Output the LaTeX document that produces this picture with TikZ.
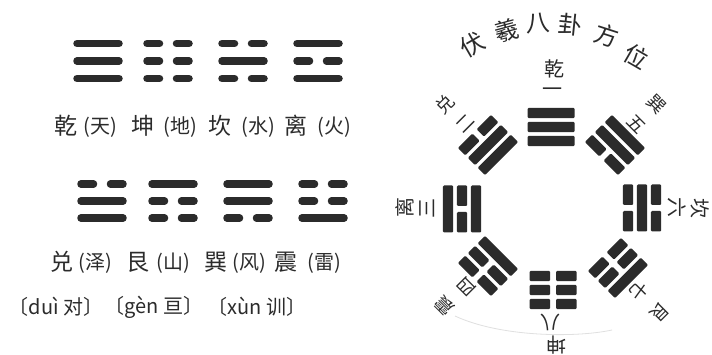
\documentclass[tikz,border=0pt]{standalone}
\usepackage{fontspec}
\setmainfont{Liberation Serif}
\newfontfamily\cjk{Noto Sans CJK SC}
\definecolor{ink}{HTML}{2B2B2B}
\newcommand{\octgua}[4]{%
 \begin{scope}[shift={(#1,#2)}, rotate=#3]
  \foreach \v [count=\i] in {#4} {
    \pgfmathsetmacro{\yy}{(\i-2)*14}
    \ifnum\v=1
      \fill[bar] (-23.5,\yy-5.2) rectangle (23.5,\yy+5.2);
    \else
      \fill[bar] (-23.5,\yy-5.2) rectangle (-3,\yy+5.2);
      \fill[bar] (3,\yy-5.2) rectangle (23.5,\yy+5.2);
    \fi
  }
 \end{scope}}
\newcommand{\rowgua}[4]{%
  \foreach \v [count=\i] in {#4} {
    \pgfmathsetmacro{\yy}{#2+(\i-1)*#3}
    \ifnum\v=1
      \draw[lbar] (#1+4,\yy) -- (#1+46,\yy);
    \else
      \draw[lbar] (#1+4,\yy) -- (#1+16.5,\yy);
      \draw[lbar] (#1+33.5,\yy) -- (#1+46,\yy);
    \fi
  }}
\begin{document}
\begin{tikzpicture}[x=1pt,y=-1pt,
  bar/.style={fill=ink, rounded corners=1.2pt},
  lbar/.style={draw=ink, line width=7.5pt, line cap=round},
  lab/.style={font=\cjk\fontsize{20}{20}\selectfont, text=ink, inner sep=0pt},
  dlab/.style={font=\cjk\fontsize{18}{18}\selectfont, text=ink, inner sep=0pt},
  big/.style={font=\cjk\fontsize{23}{23}\selectfont, text=ink, inner sep=0pt},
  ttl/.style={font=\cjk\fontsize{24}{24}\selectfont, text=ink, inner sep=0pt},
  pin/.style={font=\cjk\fontsize{20}{20}\selectfont, text=ink, inner sep=0pt},
]
\fill[white] (0,0) rectangle (712,355);
\useasboundingbox (0,0) rectangle (712,355);

% ---- left: row 1 trigrams ----
\rowgua{73}{43.5}{17.5}{1,1,1}
\rowgua{143}{43.5}{17.5}{0,0,0}
\rowgua{218}{43.5}{17.5}{0,1,0}
\rowgua{293}{43.5}{17.5}{1,0,1}
% row 1 labels
\node[big] (qian) at (66,126) {乾}; \node[lab] (tian) at (100,127) {(天)};
\node[big] (kun)  at (143,126) {坤}; \node[lab] (di) at (180,127) {(地)};
\node[big] (kan)  at (220,126) {坎}; \node[lab] (shui) at (258,127) {(水)};
\node[big] (li)   at (296,126) {离}; \node[lab] (huo) at (334,127) {(火)};

% ---- left: row 2 trigrams ----
\rowgua{77}{184}{17}{0,1,1}
\rowgua{148}{184}{17}{1,0,0}
\rowgua{223}{184}{17}{1,1,0}
\rowgua{298}{184}{17}{0,0,1}
% row 2 labels
\node[big] (dui) at (62,262) {兑}; \node[lab] (ze) at (95,263) {(泽)};
\node[big] (gen) at (138,262) {艮}; \node[lab] (shan) at (173,263) {(山)};
\node[big] (xun) at (216,262) {巽}; \node[lab] (feng) at (249,263) {(风)};
\node[big] (zhen) at (286,262) {震}; \node[lab] (lei) at (324,263) {(雷)};
% pinyin
\node[pin] (py1) at (56,307) {〔duì 对〕};
\node[pin] (py2) at (154,307) {〔gèn 亘〕};
\node[pin] (py3) at (257,307) {〔xùn 训〕};

% ---- right: Fuxi arrangement ----
\node[ttl, rotate=30]  (t1) at (472,45) {伏};
\node[ttl, rotate=15]  (t2) at (507,31) {羲};
\node[ttl, rotate=4]   (t3) at (538,23) {八};
\node[ttl, rotate=-6]  (t4) at (570,25) {卦};
\node[ttl, rotate=-18] (t5) at (607,35) {方};
\node[ttl, rotate=-30] (t6) at (636,57) {位};

\octgua{551}{127}{0}{1,1,1}
\octgua{488}{145}{45}{0,1,1}
\octgua{462}{209}{90}{1,0,1}
\octgua{488}{266}{135}{0,0,1}
\octgua{615}{145}{-45}{1,1,0}
\octgua{642}{208}{-90}{0,1,0}
\octgua{618}{268}{-135}{1,0,0}
\octgua{553}{290}{180}{0,0,0}

\node[lab] (nqian) at (554,69) {乾}; \node[lab] (n1) at (552,92) {一};
\node[dlab, rotate=45] (ndui) at (445,104) {兑}; \node[dlab, rotate=45] (n2) at (465,124) {二};
\node[lab, rotate=90] (nli) at (405,208) {离}; \node[lab, rotate=90] (n3) at (427,209) {三};
\node[dlab, rotate=135] (nzhen) at (445,306) {震}; \node[dlab, rotate=135] (n4) at (467,287) {四};
\node[dlab, rotate=-45] (nxun) at (656,104) {巽}; \node[dlab, rotate=-45] (n5) at (636,124) {五};
\node[lab, rotate=-90] (nkan) at (700,209) {坎}; \node[lab, rotate=-90] (n6) at (677,208) {六};
\node[dlab, rotate=-135] (ngen) at (660,312) {艮}; \node[dlab, rotate=-135] (n7) at (639,291) {七};
\node[lab, rotate=180] (nkun) at (556,345) {坤}; \node[lab, rotate=180] (n8) at (550,322) {八};

% faint page edge
\draw[black!12, line width=0.8pt] (455,316) .. controls (500,337) and (575,338) .. (612,330);
\end{tikzpicture}
\end{document}
